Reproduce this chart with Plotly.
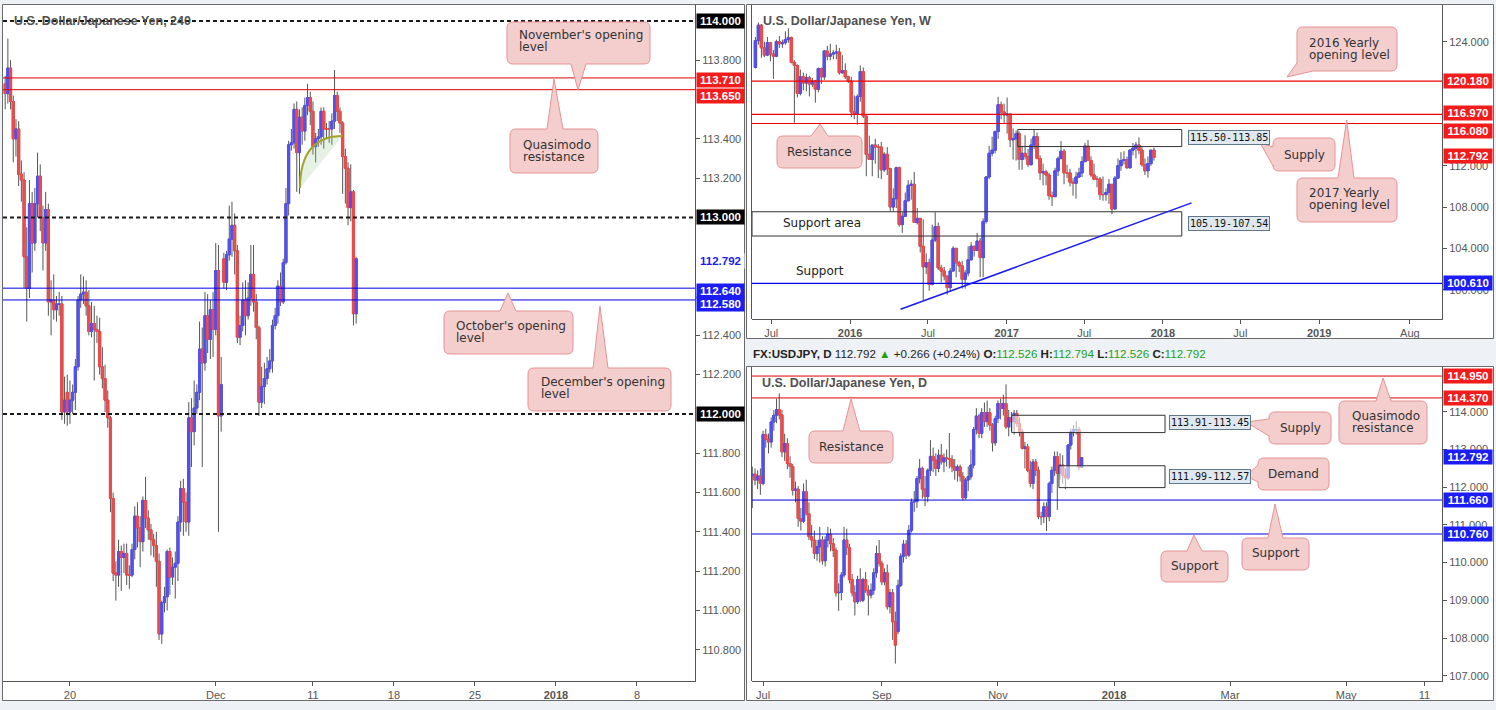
import plotly.graph_objects as go
import pandas as pd

# ======================= DATA =======================
# ---- 4-hour chart (bar index 0 = Mon 20 Nov 2017 00:00, trading bars only) ----
H4_FIRST_BAR = -24
H4_OPEN = [113.68,113.63,113.76,113.59,113.40,113.45,113.22,113.19,112.80,112.64,
           113.07,112.87,113.07,113.21,113.00,112.87,113.04,112.57,112.58,112.53,
           112.56,112.56,112.01,112.11,112.01,112.07,112.11,112.24,112.58,112.61,
           112.62,112.55,112.42,112.46,112.43,112.42,112.24,112.18,112.07,111.98,
           111.57,111.19,111.18,111.30,111.27,111.29,111.18,111.18,111.31,111.48,
           111.42,111.35,111.56,111.47,111.41,111.36,111.33,111.25,110.88,111.04,
           111.07,111.30,111.17,111.22,111.24,111.45,111.62,111.55,111.45,111.98,
           111.91,112.03,112.11,112.33,112.26,112.50,112.38,112.53,112.43,112.73,
           111.99,112.79,112.67,112.81,112.89,112.96,112.83,112.39,112.45,112.58,
           112.50,112.59,112.71,112.57,112.44,112.06,112.14,112.18,112.23,112.27,
           112.45,112.50,112.65,112.57,112.77,113.07,113.37,113.38,113.55,113.33,
           113.51,113.44,113.57,113.61,113.54,113.36,113.40,113.41,113.54,113.45,
           113.45,113.45,113.49,113.62,113.54,113.48,113.31,113.25,113.05,113.13,
           112.51]
H4_HIGH = [113.72,113.91,113.80,113.62,113.50,113.49,113.29,113.23,112.95,113.19,
           113.13,113.15,113.33,113.27,113.06,113.13,113.07,112.68,112.71,112.60,
           112.62,112.60,112.19,112.20,112.17,112.15,112.28,112.60,112.71,112.70,
           112.68,112.63,112.57,112.55,112.50,112.49,112.34,112.25,112.12,111.99,
           111.60,111.25,111.36,111.33,111.34,111.34,111.23,111.34,111.53,111.55,
           111.48,111.58,111.68,111.51,111.44,111.39,111.40,111.29,111.05,111.12,
           111.31,111.32,111.27,111.30,111.48,111.66,111.67,111.60,112.06,112.08,
           112.17,112.15,112.47,112.44,112.62,112.61,112.58,112.62,112.87,112.86,
           112.29,112.82,112.83,113.06,113.08,113.02,112.86,112.50,112.67,112.68,
           112.67,112.86,112.86,112.61,112.45,112.24,112.26,112.29,112.33,112.48,
           112.54,112.68,112.72,112.79,113.15,113.39,113.45,113.58,113.59,113.55,
           113.56,113.61,113.68,113.64,113.59,113.43,113.45,113.56,113.56,113.48,
           113.49,113.53,113.75,113.64,113.56,113.49,113.35,113.28,113.27,113.14,
           112.80]
H4_LOW = [113.55,113.58,113.55,113.28,113.31,113.16,113.08,112.64,112.47,112.59,
          112.72,112.83,113.00,112.93,112.73,112.83,112.50,112.40,112.48,112.47,
          112.50,111.97,111.95,111.94,111.95,112.00,112.02,112.22,112.54,112.56,
          112.50,112.40,112.39,112.17,112.36,112.20,112.13,112.01,111.93,111.50,
          111.15,111.05,111.12,111.10,111.19,111.13,111.11,111.17,111.26,111.32,
          111.22,111.30,111.42,111.36,111.28,111.27,111.12,110.85,110.83,110.99,
          111.00,111.08,111.13,111.06,111.15,111.40,111.38,111.40,111.38,111.73,
          111.84,112.00,112.07,111.73,112.22,112.31,112.28,112.29,112.40,111.40,
          111.91,112.64,112.63,112.78,112.80,112.71,112.36,112.35,112.42,112.40,
          112.48,112.55,112.52,112.38,111.99,112.03,112.05,112.15,112.21,112.21,
          112.43,112.46,112.55,112.56,112.76,113.01,113.34,113.35,113.13,113.12,
          113.37,113.39,113.52,113.47,113.32,113.28,113.36,113.37,113.35,113.40,
          113.38,113.37,113.45,113.49,113.43,113.12,113.07,112.96,112.98,112.45,
          112.46]
H4_CLOSE = [113.63,113.76,113.59,113.40,113.45,113.22,113.19,112.80,112.64,113.07,
            112.87,113.07,113.21,113.00,112.87,113.04,112.57,112.58,112.53,112.56,
            112.56,112.01,112.07,112.01,112.07,112.11,112.24,112.58,112.61,112.62,
            112.55,112.42,112.46,112.43,112.42,112.24,112.18,112.07,111.98,111.57,
            111.19,111.18,111.30,111.27,111.29,111.18,111.18,111.31,111.48,111.42,
            111.35,111.56,111.47,111.41,111.36,111.33,111.25,110.88,111.04,111.07,
            111.30,111.17,111.22,111.24,111.45,111.62,111.55,111.45,111.98,111.91,
            112.03,112.11,112.33,112.26,112.50,112.38,112.53,112.43,112.73,111.99,
            112.15,112.67,112.81,112.89,112.96,112.83,112.39,112.45,112.58,112.50,
            112.59,112.71,112.57,112.44,112.06,112.14,112.18,112.23,112.27,112.45,
            112.50,112.65,112.57,112.77,113.07,113.37,113.38,113.55,113.33,113.51,
            113.44,113.57,113.61,113.54,113.36,113.40,113.41,113.54,113.45,113.45,
            113.45,113.49,113.62,113.54,113.48,113.31,113.25,113.05,113.13,112.51,
            112.79]
H4_TICK_BARS = [0, 54, 90, 120, 150, 180, 210]
H4_TICK_TEXT = ["20", "Dec", "11", "18", "25", "<b>2018</b>", "8"]
H4_PRICE_TICKS = [110.8, 111.0, 111.2, 111.4, 111.6, 111.8, 112.2, 112.4, 113.2, 113.4, 113.8]
H4_ROUND_LEVELS = [114.0, 113.0, 112.0]
H4_RESISTANCE_LEVELS = [113.71, 113.65]
H4_OPENING_LEVELS = [112.64, 112.58]
H4_PATTERN_BARS = [85.2, 101.0]          # rounding-top sketch
H4_PATTERN_PRICES = [113.15, 113.415]

# ---- Weekly chart ----
W_FIRST_WEEK = "2015-05-25"
W_OPEN = [121.5,124.1,125.6,123.4,122.7,123.9,122.8,122.6,124.0,123.8,
          123.9,124.2,124.4,122.0,121.7,119.0,120.6,120.0,120.5,119.9,
          120.2,119.4,121.4,120.6,123.1,122.6,122.8,122.9,123.0,121.0,
          121.2,120.6,
          120.2,117.2,117.0,118.7,121.1,116.8,113.1,112.6,114.0,113.8,
          113.8,111.6,113.1,111.7,108.0,108.8,111.8,106.3,107.1,108.6,
          110.1,110.2,106.5,106.9,104.2,102.2,102.6,100.5,104.8,106.1,
          102.1,101.8,101.3,100.2,101.8,104.0,102.6,102.3,101.0,101.6,
          102.9,104.2,103.8,104.7,103.1,106.6,110.9,113.2,113.5,115.3,
          117.9,117.2,
          116.9,117.0,114.5,114.6,115.1,112.6,113.2,112.9,112.1,114.0,
          114.8,112.7,111.3,111.4,111.1,109.1,109.0,111.5,112.7,113.4,
          111.3,111.3,110.4,110.3,110.9,111.3,112.4,113.9,112.5,111.1,
          110.7,110.7,109.2,109.2,109.4,110.2,107.8,110.8,112.0,112.5,
          112.6,111.8,113.5,113.7,114.0,113.5,112.1,111.5,112.2,113.5]
W_HIGH = [124.45,125.86,125.7,124.0,124.45,123.9,123.2,124.2,124.55,124.2,
          125.0,125.3,124.5,122.2,121.8,121.3,121.0,120.9,120.7,120.5,
          120.3,121.5,121.5,123.2,123.6,123.8,123.2,123.7,123.4,122.7,
          121.9,120.7,
          120.6,118.8,118.9,121.7,121.5,117.0,114.9,113.9,114.6,114.1,
          114.3,113.3,113.8,111.8,109.8,111.9,111.9,107.5,109.4,110.6,
          110.6,111.4,107.9,106.9,106.8,103.5,103.0,106.3,107.5,106.5,
          102.4,102.2,101.4,102.1,104.2,104.0,102.8,102.8,101.9,104.2,
          104.6,104.2,105.5,105.0,106.9,111.0,113.9,114.8,115.4,118.66,
          118.2,118.0,
          118.6,117.0,115.6,115.4,115.3,113.9,114.95,113.6,114.6,115.5,
          115.2,113.0,112.2,111.6,111.3,109.5,111.8,112.9,114.37,113.6,
          112.1,111.7,110.8,111.4,111.8,112.9,114.2,114.49,112.9,112.2,
          111.0,110.9,110.95,109.8,110.7,110.2,111.0,112.7,113.3,113.4,
          112.9,113.6,114.2,114.3,114.73,113.9,112.7,112.9,113.5,113.75]
W_LOW = [121.4,123.7,122.45,122.5,122.6,122.1,120.4,122.5,123.4,123.4,
         123.7,123.9,121.9,116.15,118.6,118.8,119.3,119.2,118.7,119.6,
         118.1,119.1,119.9,120.3,122.2,122.2,122.3,122.3,120.8,120.9,
         120.4,120.0,
         116.7,116.5,115.98,118.2,116.6,110.98,112.6,110.98,112.2,110.8,
         110.7,111.4,111.1,107.6,107.6,107.9,106.1,105.5,107.1,108.6,
         108.7,106.5,106.3,103.6,99.0,101.5,99.9,100.4,104.6,101.9,
         100.7,100.9,99.5,99.9,101.8,101.2,101.7,100.1,100.1,101.3,
         102.8,103.2,103.8,101.2,101.2,106.4,110.7,112.9,113.2,114.6,
         116.5,116.1,
         115.1,113.8,112.6,112.5,111.6,111.6,112.6,111.9,112.0,113.6,
         112.6,110.6,110.1,110.1,108.7,108.1,109.0,111.0,112.6,110.2,
         110.8,110.0,109.1,108.8,110.8,110.9,112.3,112.5,110.9,110.6,
         109.9,108.7,108.6,108.6,108.3,107.3,107.8,110.7,111.5,112.1,
         111.7,111.7,113.0,112.7,113.1,111.9,111.1,110.84,112.0,112.5]
W_CLOSE = [124.1,125.6,123.4,122.7,123.9,122.8,122.6,124.0,123.8,123.9,
           124.2,124.4,122.0,121.7,119.0,120.6,120.0,120.5,119.9,120.2,
           119.4,121.4,120.6,123.1,122.6,122.8,122.9,123.0,121.0,121.2,
           120.6,120.2,
           117.2,117.0,118.7,121.1,116.8,113.1,112.6,114.0,113.8,113.8,
           111.6,113.1,111.7,108.0,108.8,111.8,106.3,107.1,108.6,110.1,
           110.2,106.5,106.9,104.2,102.2,102.6,100.5,104.8,106.1,102.1,
           101.8,101.3,100.2,101.8,104.0,102.6,102.3,101.0,101.6,102.9,
           104.2,103.8,104.7,103.1,106.6,110.9,113.2,113.5,115.3,117.9,
           117.2,116.9,
           117.0,114.5,114.6,115.1,112.6,113.2,112.9,112.1,114.0,114.8,
           112.7,111.3,111.4,111.1,109.1,109.0,111.5,112.7,113.4,111.3,
           111.3,110.4,110.3,110.9,111.3,112.4,113.9,112.5,111.1,110.7,
           110.7,109.2,109.2,109.4,110.2,107.8,110.8,112.0,112.5,112.6,
           111.8,113.5,113.7,114.0,113.5,112.1,111.5,112.2,113.5,112.79]
W_TICK_DATES = ["2015-07-01", "2016-01-01", "2016-07-01", "2017-01-01", "2017-07-01",
                "2018-01-01", "2018-07-01", "2019-01-01", "2019-08-01"]
W_TICK_TEXT = ["Jul", "<b>2016</b>", "Jul", "<b>2017</b>", "Jul", "<b>2018</b>", "Jul", "<b>2019</b>", "Aug"]
W_PRICE_TICKS = [100, 104, 108, 112, 124]
W_RED_LEVELS = [120.18, 116.97, 116.08]
W_BLUE_LEVELS = [100.61]
W_SUPPLY = [115.50, 113.85]
W_SUPPLY_DATES = ["2017-01-27", "2018-02-14"]
W_SUPPORT_AREA = [105.19, 107.54]
W_SUPPORT_AREA_DATES = ["2015-05-17", "2018-02-14"]
W_TRENDLINE_DATES = ["2016-04-28", "2018-03-09"]
W_TRENDLINE_PRICES = [98.1, 108.4]

# ---- Daily chart (trading-day index 0 = Mon 3 Jul 2017) ----
D_FIRST_DAY = -4
D_OPEN = [112.30,112.35,112.19,112.30,112.10,113.40,113.27,113.20,113.73,113.91,
          114.06,113.92,112.94,113.16,112.63,112.55,111.92,111.95,111.17,111.10,
          111.88,111.30,110.69,110.60,110.24,110.42,110.60,110.05,110.60,110.75,
          110.50,110.33,109.20,109.21,109.67,110.60,110.40,109.55,109.20,108.96,
          109.55,109.00,109.55,109.27,109.14,109.27,109.73,110.24,109.98,109.49,
          109.73,108.83,109.20,108.43,108.17,109.40,110.17,110.49,110.20,110.86,
          111.61,111.62,112.23,112.50,111.95,111.75,112.45,112.82,112.72,112.50,
          112.85,112.67,112.78,112.76,112.74,112.54,112.45,112.54,112.29,111.72,
          112.19,112.28,112.59,113.53,113.89,113.43,113.98,113.74,113.98,113.65,
          113.18,113.82,114.22,114.09,114.22,113.60,113.85,113.74,113.96,113.69,
          113.47,113.03,113.07,112.45,112.10,112.67,112.45,111.22,111.22,111.48,
          111.22,112.10,112.45,112.81,112.37,112.59,112.32,112.25,113.12,113.47,
          113.53,113.53,112.53]
D_HIGH = [112.55,112.50,112.45,112.50,113.50,113.55,113.42,113.85,114.05,114.35,
          114.49,114.05,113.42,113.30,112.82,112.62,112.15,112.03,111.45,112.10,
          112.20,111.60,111.00,110.85,110.60,110.95,110.70,110.70,110.95,110.90,
          110.65,110.40,109.45,109.75,110.95,110.90,110.50,109.70,109.40,109.65,
          109.85,109.60,109.75,109.40,109.45,109.85,110.45,110.60,110.05,109.85,
          109.95,109.30,109.30,108.70,109.55,110.25,110.60,110.60,111.00,111.70,
          111.90,112.30,112.75,112.55,112.30,112.50,113.25,113.05,112.90,113.00,
          113.15,112.90,113.00,113.44,112.85,112.75,112.60,112.60,112.40,112.25,
          112.55,113.00,113.60,114.10,113.95,114.10,114.25,114.30,114.10,113.70,
          113.90,114.30,114.35,114.45,114.73,114.05,114.00,114.05,114.05,113.85,
          113.55,113.20,113.15,112.70,112.75,112.75,112.55,111.35,111.60,111.60,
          112.15,112.55,112.95,112.95,112.90,112.85,112.50,113.15,113.55,113.65,
          113.75,113.60,112.79]
D_LOW = [111.45,112.05,111.95,111.80,112.05,113.05,112.90,113.05,113.50,113.70,
         113.80,112.80,112.70,112.48,112.25,111.78,111.60,110.95,110.85,111.05,
         111.25,110.60,110.40,110.10,110.05,110.00,109.95,109.90,110.40,110.30,
         110.15,109.10,108.72,109.00,109.60,110.20,109.45,109.10,108.60,108.90,
         108.95,108.95,109.20,108.60,109.05,109.15,109.60,109.90,109.40,109.40,
         108.75,108.65,107.95,107.32,108.10,109.35,110.00,110.10,110.15,110.80,
         111.35,111.45,112.10,111.70,111.50,111.60,112.30,112.40,112.30,112.40,
         112.60,112.40,112.55,112.50,112.40,112.20,112.15,112.15,111.65,111.68,
         111.90,112.20,112.50,113.40,113.30,113.30,113.60,113.60,113.50,112.95,
         113.10,113.70,113.80,113.90,113.55,113.35,113.50,113.40,113.60,113.35,
         113.00,112.50,112.40,112.00,111.95,112.30,111.15,111.00,111.05,110.84,
         111.10,111.85,112.30,111.40,112.20,112.10,111.95,112.20,113.00,113.35,
         113.40,112.45,112.53]
D_CLOSE = [112.35,112.19,112.30,112.10,113.40,113.27,113.20,113.73,113.91,114.06,
           113.92,112.94,113.16,112.63,112.55,111.92,111.95,111.17,111.10,111.88,
           111.30,110.69,110.60,110.24,110.42,110.60,110.05,110.60,110.75,110.50,
           110.33,109.20,109.21,109.67,110.60,110.40,109.55,109.20,108.96,109.55,
           109.00,109.55,109.27,109.14,109.27,109.73,110.24,109.98,109.49,109.73,
           108.83,109.20,108.43,107.81,109.40,110.17,110.49,110.20,110.86,111.61,
           111.62,112.23,112.50,111.95,111.75,112.45,112.82,112.72,112.50,112.85,
           112.67,112.78,112.76,112.74,112.54,112.45,112.54,112.29,111.72,112.19,
           112.28,112.59,113.53,113.89,113.43,113.98,113.74,113.98,113.65,113.18,
           113.82,114.22,114.09,114.22,113.60,113.85,113.74,113.96,113.69,113.47,
           113.03,113.07,112.45,112.10,112.67,112.45,111.22,111.22,111.48,111.22,
           112.10,112.45,112.81,112.37,112.59,112.32,112.25,113.12,113.47,113.53,
           113.53,112.53,112.79]
D_TICK_DAYS = [0, 44, 87, 130, 173, 216, 245]
D_TICK_TEXT = ["Jul", "Sep", "Nov", "<b>2018</b>", "Mar", "May", "11"]
D_PRICE_TICKS = [107, 108, 109, 110, 111, 112, 113, 114]
D_RED_LEVELS = [114.95, 114.37]
D_BLUE_LEVELS = [111.66, 110.76]
D_SUPPLY = [113.91, 113.45]
D_SUPPLY_DAYS = [92.1, 148.9]
D_DEMAND = [111.99, 112.57]
D_DEMAND_DAYS = [109.6, 148.9]

# ---- Quote header ----
SYMBOL = "FX:USDJPY, D"
LAST_PRICE = 112.792
CHANGE = 0.266
CHANGE_PCT = 0.24
Q_OPEN, Q_HIGH, Q_LOW, Q_CLOSE = 112.526, 112.794, 112.526, 112.792

# ======================= STYLE / LAYOUT =======================
W, H = 1496, 710
UP, DOWN, WICK = "#5050f5", "#f24a4a", "#555555"
RED, BLUE = "#f21c1c", "#1c1cf5"
AX = "#555555"
BG = "#eef1f5"
TICKFONT = dict(family="Liberation Sans, Arial, sans-serif", size=11, color="#555555")
CALLOUT_FILL, CALLOUT_LINE = "#f4cdcd", "#e59393"
TXT = dict(family="DejaVu Sans, Verdana, sans-serif", size=12, color="#333333")


def px(x):
    return x / W


def py(y):
    return 1 - y / H


fig = go.Figure()


def add_candles(x, o, h, l, c, xa, ya):
    body_hi = [max(a, b) for a, b in zip(o, c)]
    body_lo = [min(a, b) for a, b in zip(o, c)]
    fig.add_trace(go.Candlestick(
        x=x, open=o, high=h, low=l, close=c, xaxis=xa, yaxis=ya,
        increasing=dict(line=dict(color=WICK, width=1), fillcolor=WICK),
        decreasing=dict(line=dict(color=WICK, width=1), fillcolor=WICK),
        whiskerwidth=0, showlegend=False, hoverinfo="skip"))
    fig.add_trace(go.Candlestick(
        x=x, open=o, high=body_hi, low=body_lo, close=c, xaxis=xa, yaxis=ya,
        increasing=dict(line=dict(color=UP, width=1), fillcolor=UP),
        decreasing=dict(line=dict(color=DOWN, width=1), fillcolor=DOWN),
        whiskerwidth=0, showlegend=False, hoverinfo="skip"))


h4_x = list(range(H4_FIRST_BAR, H4_FIRST_BAR + len(H4_OPEN)))
w_x = pd.date_range(W_FIRST_WEEK, periods=len(W_OPEN), freq="7D")
d_x = list(range(D_FIRST_DAY, D_FIRST_DAY + len(D_OPEN)))

add_candles(h4_x, H4_OPEN, H4_HIGH, H4_LOW, H4_CLOSE, "x", "y")
add_candles(w_x, W_OPEN, W_HIGH, W_LOW, W_CLOSE, "x2", "y2")
add_candles(d_x, D_OPEN, D_HIGH, D_LOW, D_CLOSE, "x3", "y3")

shapes = []
annotations = []

# panel frames (paper background)
for (x0, y0, x1, y1) in [(2.5, 4.5, 744.5, 700.5), (746.5, 4.5, 1493.5, 338.5), (746.5, 366.5, 1493.5, 700.5)]:
    shapes.append(dict(type="rect", xref="paper", yref="paper", x0=px(x0), x1=px(x1), y0=py(y1), y1=py(y0),
                       fillcolor="white", line=dict(color="#6a6a6a", width=1), layer="below"))
for (y0, y1) in [(5, 319), (367, 681)]:
    shapes.append(dict(type="line", xref="paper", yref="paper", x0=px(751.5), x1=px(751.5), y0=py(y1), y1=py(y0),
                       line=dict(color=AX, width=1)))


def hline(ya, xd, v, color, width=1, dash="solid"):
    shapes.append(dict(type="line", xref=xd, yref=ya, x0=0, x1=1, y0=v, y1=v,
                       line=dict(color=color, width=width, dash=dash)))


for v in H4_ROUND_LEVELS:
    hline("y", "x domain", v, "#1a1a1a", 2, "4px,3px")
for v in H4_RESISTANCE_LEVELS:
    hline("y", "x domain", v, "#e00000", 1)
for v in H4_OPENING_LEVELS:
    hline("y", "x domain", v, "#0000e6", 1)
for v in W_RED_LEVELS:
    hline("y2", "x2 domain", v, "#f00000", 1.2)
for v in W_BLUE_LEVELS:
    hline("y2", "x2 domain", v, "#0000f0", 1.2)
for v in D_RED_LEVELS:
    hline("y3", "x3 domain", v, "#e00000", 1)
for v in D_BLUE_LEVELS:
    hline("y3", "x3 domain", v, "#0000e0", 1)

# rounding-top sketch on the 4h chart
(bx0, bx1), (by0, by1) = H4_PATTERN_BARS, H4_PATTERN_PRICES
shapes.append(dict(type="path", xref="x", yref="y",
                   path=f"M {bx0},{by0} Q {bx0},{by1} {bx1},{by1} Z",
                   fillcolor="rgba(150,200,140,0.25)", line=dict(width=0)))
shapes.append(dict(type="path", xref="x", yref="y",
                   path=f"M {bx0},{by0} Q {bx0},{by1} {bx1},{by1}",
                   line=dict(color="#a3a32c", width=2)))

# weekly zones and trendline
shapes.append(dict(type="rect", xref="x2", yref="y2", x0=W_SUPPLY_DATES[0], x1=W_SUPPLY_DATES[1],
                   y0=W_SUPPLY[1], y1=W_SUPPLY[0], line=dict(color="#333333", width=1)))
shapes.append(dict(type="rect", xref="x2", yref="y2", x0=W_SUPPORT_AREA_DATES[0], x1=W_SUPPORT_AREA_DATES[1],
                   y0=W_SUPPORT_AREA[0], y1=W_SUPPORT_AREA[1], line=dict(color="#333333", width=1)))
shapes.append(dict(type="line", xref="x2", yref="y2", x0=W_TRENDLINE_DATES[0], x1=W_TRENDLINE_DATES[1],
                   y0=W_TRENDLINE_PRICES[0], y1=W_TRENDLINE_PRICES[1], line=dict(color="#1c1cf0", width=1.5)))
# daily zones (semi-opaque boxes)
for days, zone in [(D_SUPPLY_DAYS, D_SUPPLY), (D_DEMAND_DAYS, D_DEMAND)]:
    shapes.append(dict(type="rect", xref="x3", yref="y3", x0=days[0], x1=days[1], y0=min(zone), y1=max(zone),
                       fillcolor="rgba(255,255,255,0.55)", line=dict(color="#333333", width=1), layer="above"))


# ---- callouts ----
def P(x, y):
    return f"{px(x):.5f},{py(y):.5f}"


def callout(x0, y0, x1, y1, side, b0, b1, tip, r=6):
    s = f"M {P(x0 + r, y0)}"
    if side == "top":
        s += f" L {P(b0, y0)} L {P(*tip)} L {P(b1, y0)}"
    s += f" L {P(x1 - r, y0)} Q {P(x1, y0)} {P(x1, y0 + r)}"
    s += f" L {P(x1, y1 - r)} Q {P(x1, y1)} {P(x1 - r, y1)}"
    if side == "bottom":
        s += f" L {P(b1, y1)} L {P(*tip)} L {P(b0, y1)}"
    if side == "bl":
        s += f" L {P(b0, y1)} L {P(*tip)} L {P(x0, b1)}"
    else:
        s += f" L {P(x0 + r, y1)} Q {P(x0, y1)} {P(x0, y1 - r)}"
    if side == "left":
        s += f" L {P(x0, b1)} L {P(*tip)} L {P(x0, b0)}"
    s += f" L {P(x0, y0 + r)} Q {P(x0, y0)} {P(x0 + r, y0)} Z"
    shapes.append(dict(type="path", xref="paper", yref="paper", path=s,
                       fillcolor=CALLOUT_FILL, line=dict(color=CALLOUT_LINE, width=1)))


def text(x, y, t, anchor="left", font=TXT):
    annotations.append(dict(xref="paper", yref="paper", x=px(x), y=py(y), text=t, showarrow=False,
                            xanchor=anchor, yanchor="middle", font=font))


CALLOUTS = [
    # box, side, base0, base1, tip, lines, text x, text ys, anchor
    ((507, 22, 650, 64), "bottom", 571, 586, (578, 90), ["November's opening", "level"], 517, [35, 47], "left"),
    ((510, 129, 598, 173), "top", 547, 563, (554, 79), ["Quasimodo", "resistance"], 521, [145, 157], "left"),
    ((444, 311, 573, 354), "top", 500, 516, (508, 293), ["October's opening", "level"], 454, [326, 338], "left"),
    ((528, 368, 671, 411), "top", 593, 608, (600, 306), ["December's opening", "level"], 539, [382, 394], "left"),
    ((777, 136, 862, 168), "top", 811, 828, (820, 124), ["Resistance"], 819.5, [152], "center"),
    ((1273, 138, 1335, 171), "left", 147, 166, (1260, 142.7), ["Supply"], 1304, [154.5], "center"),
    ((1297, 27, 1397, 71), "bl", 1313, 63, (1287, 77), ["2016 Yearly", "opening level"], 1307, [42.5, 54.5], "left"),
    ((1297, 178, 1397, 222), "top", 1338, 1354, (1346.7, 120), ["2017 Yearly", "opening level"], 1307, [193.5, 205.5], "left"),
    ((809, 431, 893, 463), "top", 843, 860, (851, 399), ["Resistance"], 851, [447], "center"),
    ((1269, 412, 1331, 444), "left", 419, 436, (1246, 422), ["Supply"], 1300, [428], "center"),
    ((1258, 458, 1329, 490), "left", 465, 482, (1246, 476), ["Demand"], 1293.5, [474], "center"),
    ((1339, 401, 1427, 444), "top", 1376, 1391, (1383, 378), ["Quasimodo", "resistance"], 1350, [416, 428], "left"),
    ((1161, 551, 1228, 582), "top", 1187, 1202, (1194, 535), ["Support"], 1194.5, [566], "center"),
    ((1242, 538, 1309, 570), "top", 1268, 1283, (1275, 504), ["Support"], 1275.5, [553], "center"),
]
for box, side, b0, b1, tip, lines, tx, tys, anc in CALLOUTS:
    callout(*box, side, b0, b1, tip)
    for line, ty in zip(lines, tys):
        text(tx, ty, line, anc)

text(781, 223, "Support area", font=dict(TXT, color="#222222"))
text(794, 271, "Support", font=dict(TXT, color="#222222"))

# chart titles
TITLE_FONT = dict(family="Liberation Sans, Arial, sans-serif", size=12.5, color="#505050")
text(12, 21, "<b>U.S. Dollar/Japanese Yen, 240</b>", font=TITLE_FONT)
text(761, 21, "<b>U.S. Dollar/Japanese Yen, W</b>", font=TITLE_FONT)
text(760, 383, "<b>U.S. Dollar/Japanese Yen, D</b>", font=TITLE_FONT)

# header quote line
G = "#22a022"
hdr = (f"<b>{SYMBOL}</b> {LAST_PRICE:.3f} <span style='color:{G}'>\u25B2</span> +{CHANGE:.3f} (+{CHANGE_PCT:.2f}%) "
       f"<b>O:</b><span style='color:{G}'>{Q_OPEN:.3f}</span> <b>H:</b><span style='color:{G}'>{Q_HIGH:.3f}</span> "
       f"<b>L:</b><span style='color:{G}'>{Q_LOW:.3f}</span> <b>C:</b><span style='color:{G}'>{Q_CLOSE:.3f}</span>")
text(751, 353, hdr, font=dict(family="Liberation Sans, Arial, sans-serif", size=11.6, color="#222222"))

# range labels beside zones
ZL_FONT = dict(family="DejaVu Sans Mono, Liberation Mono, monospace", size=10, color="#111111")


def zone_label(x, y, t):
    annotations.append(dict(xref="paper", yref="paper", x=px(x), y=py(y), text=t, showarrow=False,
                            xanchor="left", yanchor="middle", font=ZL_FONT, bgcolor="#dfe8ef",
                            bordercolor="#60788a", borderwidth=1, borderpad=1))


zone_label(1188, 138, f"{W_SUPPLY[0]:.2f}-{W_SUPPLY[1]:.2f}")
zone_label(1188, 223.5, f"{W_SUPPORT_AREA[0]:.2f}-{W_SUPPORT_AREA[1]:.2f}")
zone_label(1169, 422, f"{D_SUPPLY[0]:.2f}-{D_SUPPLY[1]:.2f}")
zone_label(1169, 476, f"{D_DEMAND[0]:.2f}-{D_DEMAND[1]:.2f}")


# axis price tags
def tag(ya, x, v, bg, fg="white", shift=0, w=45):
    annotations.append(dict(xref="paper", yref=ya, x=px(x), y=v, xanchor="left", yanchor="middle",
                            text=f"<b>{v:.3f}</b>", showarrow=False, yshift=shift,
                            font=dict(family="Liberation Sans, Arial, sans-serif", size=11.5, color=fg),
                            bgcolor=bg, borderpad=1, width=w, height=12, align="center"))


tag("y", 696, H4_ROUND_LEVELS[0], "#000000")
tag("y", 696, H4_ROUND_LEVELS[1], "#000000")
tag("y", 696, H4_ROUND_LEVELS[2], "#000000")
tag("y", 696, H4_RESISTANCE_LEVELS[0], RED, shift=-2)
tag("y", 696, H4_RESISTANCE_LEVELS[1], RED, shift=-6.5)
tag("y", 696, H4_OPENING_LEVELS[0], BLUE, shift=-3)
tag("y", 696, H4_OPENING_LEVELS[1], BLUE, shift=-4)
tag("y", 696, LAST_PRICE, "rgba(255,255,255,1)", fg=BLUE, shift=-3)

tag("y2", 1443, W_RED_LEVELS[0], RED, w=46)
tag("y2", 1443, W_RED_LEVELS[1], RED, shift=1, w=46)
tag("y2", 1443, W_RED_LEVELS[2], RED, shift=-7, w=46)
tag("y2", 1443, LAST_PRICE, RED, shift=1, w=46)
tag("y2", 1443, W_BLUE_LEVELS[0], BLUE, w=46)

tag("y3", 1443, D_RED_LEVELS[0], RED, w=46)
tag("y3", 1443, D_RED_LEVELS[1], RED, w=46)
tag("y3", 1443, LAST_PRICE, BLUE, w=46)
tag("y3", 1443, D_BLUE_LEVELS[0], BLUE, w=46)
tag("y3", 1443, D_BLUE_LEVELS[1], BLUE, w=46)

# ---- axes ----
common_x = dict(showgrid=False, zeroline=False, showline=True, linecolor=AX, linewidth=1,
                ticks="outside", ticklen=4, tickcolor=AX, tickfont=TICKFONT,
                rangeslider=dict(visible=False), fixedrange=True)
common_y = dict(showgrid=False, zeroline=False, showline=True, linecolor=AX, linewidth=1, side="right",
                ticks="outside", ticklen=4, tickcolor=AX, tickfont=TICKFONT, tickformat=".3f", fixedrange=True,
                tickmode="array")

fig.update_layout(
    width=W, height=H, autosize=False,
    margin=dict(l=0, r=0, t=0, b=0, pad=0),
    paper_bgcolor=BG, plot_bgcolor="white",
    showlegend=False,
    boxgap=0.12, boxgroupgap=0.12,
    xaxis=dict(common_x, domain=[px(3), px(695)], range=[-24.8, 231.5], anchor="y",
               tickmode="array", tickvals=H4_TICK_BARS, ticktext=H4_TICK_TEXT),
    yaxis=dict(common_y, domain=[py(681), py(5)], range=[110.641, 114.081], anchor="x",
               tickvals=H4_PRICE_TICKS),
    xaxis2=dict(common_x, domain=[px(752), px(1442)], range=["2015-05-17", "2019-10-15"], anchor="y2",
                type="date", tickmode="array", tickvals=W_TICK_DATES, ticktext=W_TICK_TEXT),
    yaxis2=dict(common_y, domain=[py(319), py(5)], range=[97.16, 127.55], anchor="x2",
                tickvals=W_PRICE_TICKS),
    xaxis3=dict(common_x, domain=[px(752), px(1442)], range=[-4.1, 251.5], anchor="y3",
                tickmode="array", tickvals=D_TICK_DAYS, ticktext=D_TICK_TEXT),
    yaxis3=dict(common_y, domain=[py(681), py(367)], range=[106.86, 115.19], anchor="x3",
                tickvals=D_PRICE_TICKS),
    shapes=shapes,
    annotations=annotations,
)

fig.write_html("out.html", config={"displayModeBar": False, "staticPlot": True},
               post_script="document.body.style.margin='0';")
